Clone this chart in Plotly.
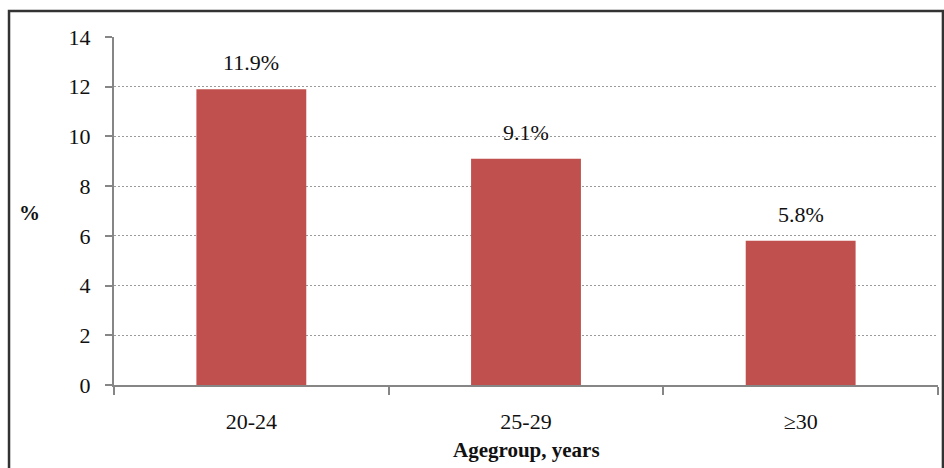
import plotly.graph_objects as go

categories = ["20-24", "25-29", "≥30"]
values = [11.9, 9.1, 5.8]
labels = ["11.9%", "9.1%", "5.8%"]
y_ticks = [0, 2, 4, 6, 8, 10, 12, 14]

FONT = "Liberation Serif, Times New Roman, serif"
AXIS = "#868686"
TXT = "#111111"

fig = go.Figure()
fig.add_trace(go.Bar(
    x=categories, y=values, width=0.4,
    marker=dict(color="#C0504D", line=dict(width=0)),
    hoverinfo="skip",
))

for c, v, t in zip(categories, values, labels):
    fig.add_annotation(x=c, y=v, text=t, showarrow=False, yanchor="bottom",
                       yshift=12, font=dict(family=FONT, size=22, color=TXT))

fig.add_annotation(xref="paper", yref="paper", x=-0.102, y=0.494, text="<b>%</b>",
                   xanchor="center", yanchor="middle",
                   showarrow=False, font=dict(family=FONT, size=21, color=TXT))
fig.add_annotation(xref="paper", yref="paper", x=0.5, y=-0.187, text="<b>Agegroup, years</b>",
                   xanchor="center", yanchor="middle",
                   showarrow=False, font=dict(family=FONT, size=21, color=TXT))

# outer chart border
fig.add_shape(type="rect", xref="paper", yref="paper",
              x0=-0.1274, x1=1.006, y0=-0.26, y1=1.0747,
              line=dict(color="#333333", width=2.5), fillcolor="rgba(0,0,0,0)", layer="below")

fig.update_layout(
    width=944, height=468,
    margin=dict(l=114, r=6, t=37, b=83),
    paper_bgcolor="white", plot_bgcolor="white",
    showlegend=False,
    font=dict(family=FONT, size=22, color=TXT),
    xaxis=dict(
        type="category", range=[-0.5, 2.5],
        showline=True, linecolor=AXIS, linewidth=2,
        ticks="outside", tickson="boundaries", ticklen=8, tickcolor=AXIS, tickwidth=2,
        showgrid=False, ticklabelstandoff=16,
        tickfont=dict(family=FONT, size=22, color=TXT),
    ),
    yaxis=dict(
        range=[0, 14], tickvals=y_ticks,
        showline=True, linecolor=AXIS, linewidth=2,
        ticks="outside", ticklen=7, tickcolor=AXIS, tickwidth=2,
        showgrid=True, gridcolor="#9a9a9a", griddash="2px,2px", gridwidth=1,
        zeroline=False, ticklabelstandoff=10,
        tickfont=dict(family=FONT, size=22, color=TXT),
    ),
)

fig.write_html("out.html")
